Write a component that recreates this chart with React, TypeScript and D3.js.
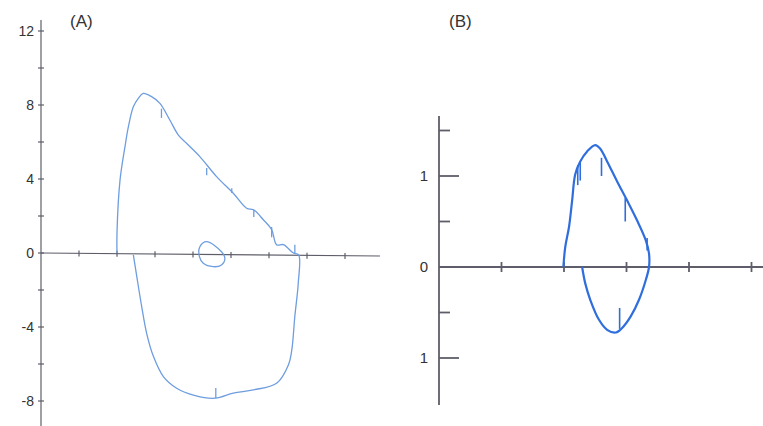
import React from "react";
import * as d3 from "d3";

// Panel A: flow-volume loop (volume, flow)
const loopAExp: [number, number][] = [
  [2.0, 0], [2.0, 1.1], [2.08, 3.95], [2.21, 5.75], [2.3, 6.83], [2.43, 7.9], [2.56, 8.36],
  [2.69, 8.63], [2.91, 8.45], [3.13, 8.09], [3.39, 7.19], [3.61, 6.39], [3.83, 5.93],
  [4.18, 5.21], [4.62, 4.13], [5.06, 3.23], [5.41, 2.42], [5.59, 2.34], [5.85, 1.8],
  [6.07, 1.26], [6.2, 0.45], [6.38, 0.45], [6.64, 0], [6.78, -0.1],
];
const loopAInsp: [number, number][] = [
  [6.78, -0.1], [6.77, -1.62], [6.68, -3.42], [6.6, -5.24], [6.51, -6.05], [6.2, -7.04],
  [5.59, -7.4], [5.06, -7.58], [4.58, -7.85], [4.01, -7.68], [3.57, -7.31], [3.22, -6.68],
  [2.96, -5.6], [2.78, -4.34], [2.65, -2.9], [2.52, -1.26], [2.43, -0.1],
];
const tidalA: [number, number][] = [
  [4.36, 0.61], [4.75, 0.07], [4.84, -0.29], [4.75, -0.65], [4.53, -0.74],
  [4.27, -0.56], [4.17, -0.2], [4.18, 0.34],
];
// time markers: [x, yTop, yBottom]
const markersA: [number, number, number][] = [
  [3.17, 7.8, 7.3], [4.36, 4.6, 4.2], [5.02, 3.5, 3.25], [5.6, 2.35, 1.95],
  [6.07, 1.4, 0.85], [6.68, 0.45, 0.0], [4.6, -7.3, -7.85],
];
const yTicksA = [-8, -4, 0, 4, 8, 12];
const yMinorA = [-6, -2, 2, 6, 10];
const xTicksA = [1, 2, 3, 4, 5, 6, 7, 8];

// Panel B
const loopBExp: [number, number][] = [
  [1.99, 0], [2.02, 0.22], [2.08, 0.44], [2.13, 0.73], [2.18, 1.02], [2.26, 1.16],
  [2.37, 1.27], [2.5, 1.34], [2.58, 1.3], [2.69, 1.16], [2.85, 0.94], [3.01, 0.73],
  [3.17, 0.51], [3.31, 0.29], [3.36, 0.15], [3.36, 0],
];
const loopBInsp: [number, number][] = [
  [3.36, 0], [3.31, -0.14], [3.2, -0.36], [3.07, -0.54], [2.93, -0.67], [2.83, -0.72],
  [2.69, -0.69], [2.56, -0.58], [2.42, -0.36], [2.34, -0.18], [2.29, 0],
];
const markersB: [number, number, number][] = [
  [2.22, 1.12, 0.9], [2.26, 1.15, 0.95], [2.6, 1.2, 1.0], [2.98, 0.76, 0.5],
  [3.33, 0.32, 0.18], [2.89, -0.45, -0.68],
];
const yTicksB: [number, string][] = [[1, "1"], [0, "0"], [-1, "1"]];
const yMinorB = [1.5, 0.5, -0.5];
const xTicksB = [1, 2, 3, 4, 5];

export default function App() {
  const W = 763, H = 426;
  // Panel A scales
  const xA = d3.scaleLinear().domain([0, 1]).range([41, 79]);
  const yA = d3.scaleLinear().domain([0, 4]).range([253, 179]);
  // Panel B scales
  const xB = d3.scaleLinear().domain([0, 1]).range([439, 501.5]);
  const yB = d3.scaleLinear().domain([0, 1]).range([267, 176]);

  const lineA = d3.line<[number, number]>().x((d) => xA(d[0])).y((d) => yA(d[1])).curve(d3.curveCatmullRom);
  const lineAClosed = d3.line<[number, number]>().x((d) => xA(d[0])).y((d) => yA(d[1])).curve(d3.curveCatmullRomClosed);
  const lineB = d3.line<[number, number]>().x((d) => xB(d[0])).y((d) => yB(d[1])).curve(d3.curveCatmullRom);

  const axisCol = "#5e5e6a";
  const colA = "#6e9de0";
  const colB = "#2f6edc";
  const font = "'Liberation Sans', Arial, sans-serif";

  return (
    <svg width={W} height={H} style={{ position: "absolute", left: 0, top: 0, background: "#fff" }}>
      {/* Panel A axes */}
      <g stroke={axisCol} strokeWidth={1.2}>
        <line x1={xA(0)} x2={xA(0)} y1={20} y2={H} />
        <line x1={xA(0)} x2={380} y1={yA(0)} y2={yA(0) + 3} />
        {yTicksA.concat(yMinorA).map((t) => (
          <line key={"ya" + t} x1={xA(0) - 3} x2={xA(0) + 3} y1={yA(t)} y2={yA(t)} />
        ))}
        {xTicksA.map((t) => (
          <line key={"xa" + t} x1={xA(t)} x2={xA(t)} y1={yA(0) - 3 + t * 0.38} y2={yA(0) + 3 + t * 0.38} />
        ))}
      </g>
      {yTicksA.map((t) => (
        <text key={"yla" + t} x={xA(0) - 7} y={yA(t)} dy="0.35em" textAnchor="end"
          fontFamily={font} fontSize={14} fill="#333">{t}</text>
      ))}
      <text x={70} y={27} fontFamily={font} fontSize={17} fill="#333">(A)</text>

      {/* Panel A loop */}
      <g fill="none" stroke={colA} strokeWidth={1.3}>
        <path d={lineA(loopAExp.concat(loopAInsp.slice(1))) || ""} />
        <path d={lineAClosed(tidalA) || ""} />
        {markersA.map((m, i) => (
          <line key={"ma" + i} x1={xA(m[0])} x2={xA(m[0])} y1={yA(m[1])} y2={yA(m[2])} />
        ))}
      </g>

      {/* Panel B axes */}
      <g stroke={axisCol} strokeWidth={1.8}>
        <line x1={xB(0)} x2={xB(0)} y1={116} y2={405} />
        <line x1={xB(0)} x2={W} y1={yB(0)} y2={yB(0)} />
        {yTicksB.map(([t]) => (
          <line key={"yb" + t} x1={xB(0)} x2={xB(0) + 20} y1={yB(t)} y2={yB(t)} />
        ))}
        {yMinorB.map((t) => (
          <line key={"ybm" + t} x1={xB(0)} x2={xB(0) + 11} y1={yB(t)} y2={yB(t)} />
        ))}
        {xTicksB.map((t) => (
          <line key={"xb" + t} x1={xB(t)} x2={xB(t)} y1={yB(0) - 5} y2={yB(0) + 5} />
        ))}
      </g>
      {yTicksB.map(([t, lab]) => (
        <text key={"ylb" + t} x={xB(0) - 11} y={yB(t)} dy="0.35em" textAnchor="end"
          fontFamily={font} fontSize={15} fill="#333">{lab}</text>
      ))}
      <text x={449} y={27} fontFamily={font} fontSize={17} fill="#333">(B)</text>

      {/* Panel B loop */}
      <g fill="none" stroke={colB} strokeWidth={2.2}>
        <path d={lineB(loopBExp.concat(loopBInsp.slice(1))) || ""} />
        {markersB.map((m, i) => (
          <line key={"mb" + i} x1={xB(m[0])} x2={xB(m[0])} y1={yB(m[1])} y2={yB(m[2])} strokeWidth={1.6} />
        ))}
      </g>
    </svg>
  );
}
